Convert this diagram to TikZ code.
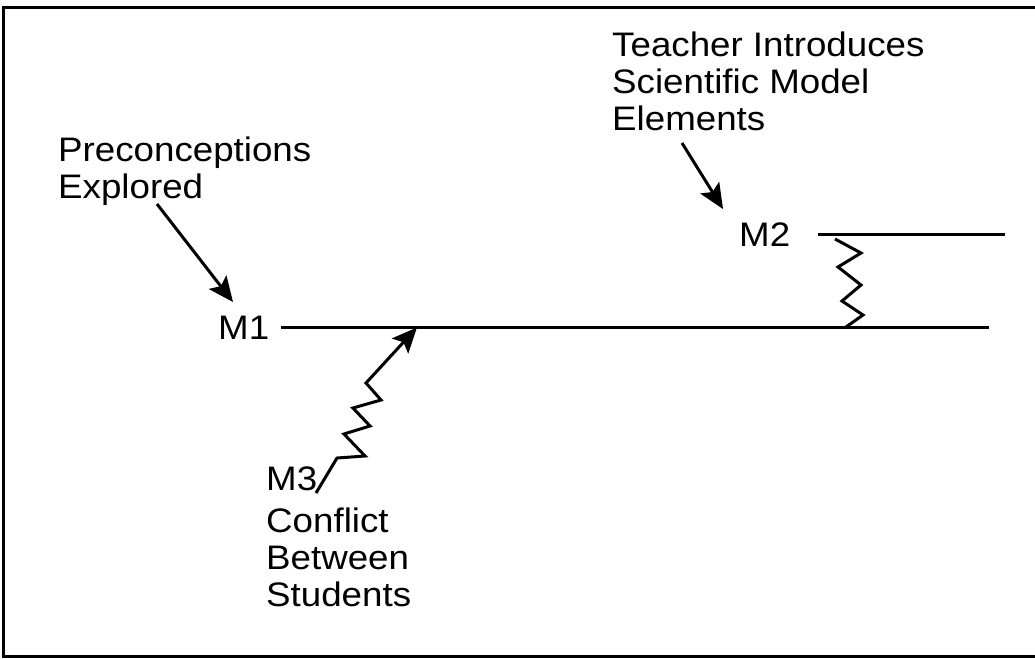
\documentclass[tikz,border=0pt]{standalone}
\usepackage{fontspec}
\setmainfont{Liberation Sans}[FakeStretch=1.08]
\usetikzlibrary{arrows.meta}
\begin{document}
\begin{tikzpicture}[x=1pt,y=-1pt,
  lbl/.style={anchor=base west, inner sep=0pt, align=left, font=\fontsize{34}{37}\selectfont},
  ln/.style={line width=3pt},
  zz/.style={line width=3pt, line join=miter},
  arr/.style={line width=3pt, -{Stealth[length=25pt,width=22pt,inset=5pt]}}]
\useasboundingbox (0,0) rectangle (1035,658);
\draw[line width=3pt] (3,7.5) rectangle (1060,656);
% labels (base anchor = baseline of the last line)
\node[lbl] (teach) at (612,131) {Teacher Introduces\\Scientific Model\\Elements};
\node[lbl] (pre) at (58,198) {Preconceptions\\Explored};
\node[lbl] (m1) at (218,339.5) {M1};
\node[lbl] (m2) at (739,246) {M2};
\node[lbl] (m3) at (266,490) {M3};
\node[lbl] (conf) at (266,606) {Conflict\\Between\\Students};
% model lines
\coordinate (m1a) at (281,327.5);
\coordinate (m1b) at (989,327.5);
\coordinate (m2a) at (818,234.5);
\coordinate (m2b) at (1005,234.5);
\draw[ln] (m1a) -- (m1b);
\draw[ln] (m2a) -- (m2b);
% zigzag between M2 and M1
\coordinate (z0) at (835,239);
\coordinate (z6) at (846,327);
\draw[zz] (z0) -- (861,253) -- (838,267) -- (861,285) -- (842,301) -- (863,315) -- (z6);
% arrows
\coordinate (p0) at (157,204);
\coordinate (p1) at (233,302);
\draw[arr] (p0) -- (p1);
\coordinate (t0) at (682,143);
\coordinate (t1) at (723,209);
\draw[arr] (t0) -- (t1);
\coordinate (c0) at (316,493);
\coordinate (c1) at (417,327.5);
\draw[zz, arr] (c0) -- (337,458) -- (365,456) -- (344,434) -- (370,426) -- (353,408) -- (381,400) -- (366,383) -- (c1);
\end{tikzpicture}
\end{document}
